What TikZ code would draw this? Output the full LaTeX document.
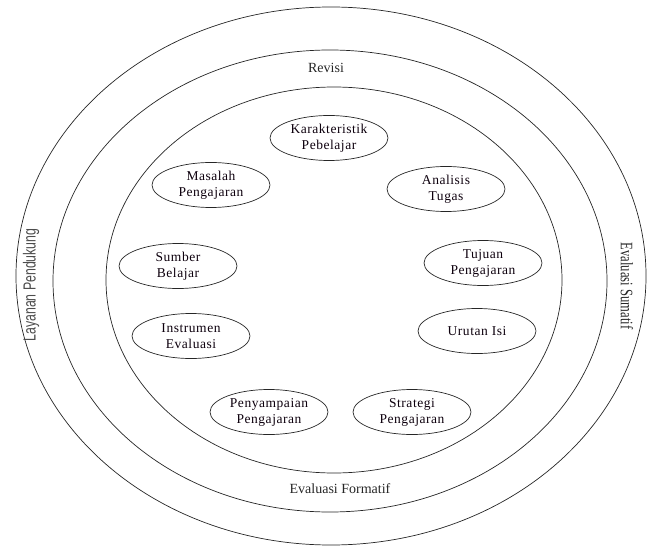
\documentclass[tikz,border=0pt]{standalone}
\usepackage{fontspec}
\setmainfont{Liberation Serif}
\newfontfamily\ringsans{Liberation Sans}
\newfontfamily\compfont[LetterSpace=4]{Liberation Serif}
\usetikzlibrary{shapes.geometric}
\begin{document}
\begin{tikzpicture}[x=1bp,y=-1bp,
  ring/.style={draw=black!85, line width=0.7bp},
  comp/.style={ellipse, draw=black!85, line width=0.7bp, inner sep=0pt,
    minimum width=118bp, minimum height=45bp, align=center,
    font=\compfont\fontsize{13.5bp}{16bp}\selectfont, text=black!90!violet},
  ringlabel/.style={font=\fontsize{14bp}{16bp}\selectfont, text=black!85, inner sep=0pt}]
\useasboundingbox (0,0) rectangle (649,547);
% three nested rings
\draw[ring] (331,276) ellipse [x radius=315bp, y radius=269bp];
\draw[ring] (330,281) ellipse [x radius=277bp, y radius=231bp];
\draw[ring] (334,280) ellipse [x radius=228bp, y radius=193bp];
% ring labels
\node[ringlabel] (revisi) at (326,68) {Revisi};
\node[ringlabel] (formatif) at (340,489) {Evaluasi Formatif};
\node[ringlabel, rotate=90, yscale=1.25, xscale=0.88, text=black!70] (layanan) at (31,285) {\ringsans Layanan Pendukung};
\node[ringlabel, rotate=-90, yscale=1.25, xscale=0.9] (sumatif) at (627,286) {Evaluasi Sumatif};
% design components
\node[comp] (karakteristik) at (329,138) {Karakteristik\\Pebelajar};
\node[comp] (masalah) at (211,185) {Masalah\\Pengajaran};
\node[comp] (analisis) at (446,189) {Analisis\\Tugas};
\node[comp] (sumber) at (178,266) {Sumber\\Belajar};
\node[comp] (tujuan) at (483,263) {Tujuan\\Pengajaran};
\node[comp] (instrumen) at (191,336) {Instrumen\\Evaluasi};
\node[comp] (urutan) at (477,331) {Urutan Isi};
\node[comp] (penyampaian) at (269,412) {Penyampaian\\Pengajaran};
\node[comp] (strategi) at (412,412) {Strategi\\Pengajaran};
\end{tikzpicture}
\end{document}
